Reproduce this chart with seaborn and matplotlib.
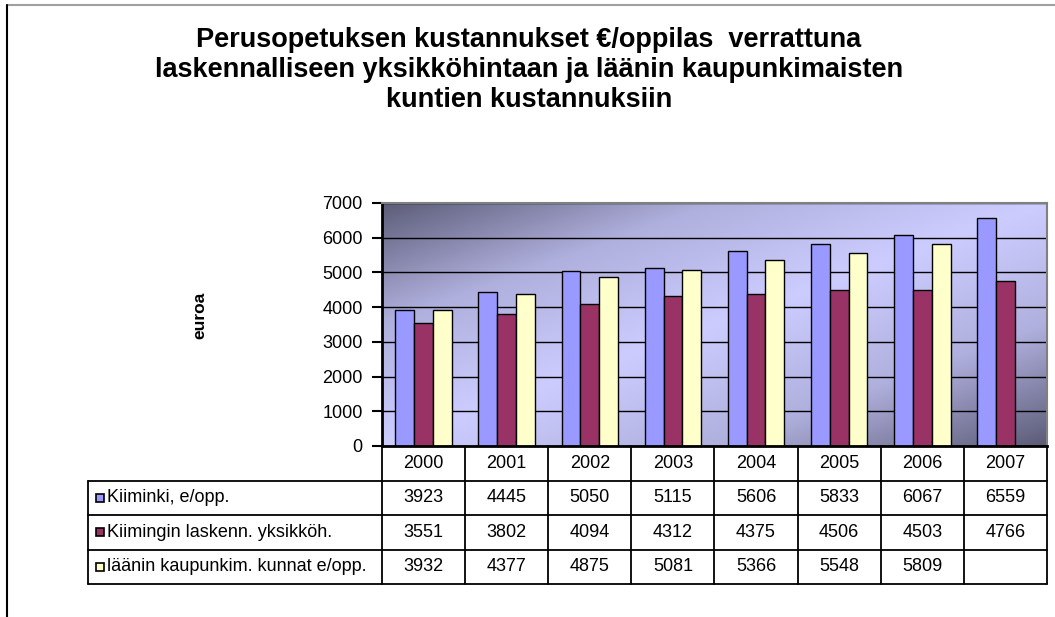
import numpy as np
import pandas as pd
import seaborn as sns
import matplotlib.pyplot as plt
from matplotlib.colors import LinearSegmentedColormap
from matplotlib.patches import Rectangle
from matplotlib.lines import Line2D

# data
years = ['2000', '2001', '2002', '2003', '2004', '2005', '2006', '2007']
kiiminki = [3923, 4445, 5050, 5115, 5606, 5833, 6067, 6559]
laskenn = [3551, 3802, 4094, 4312, 4375, 4506, 4503, 4766]
laani = [3932, 4377, 4875, 5081, 5366, 5548, 5809, np.nan]
series = ['Kiiminki, e/opp.', 'Kiimingin laskenn. yksikköh.', 'läänin kaupunkim. kunnat e/opp.']
colors = ['#9999ff', '#993366', '#ffffcc']

df = pd.DataFrame({'year': years, series[0]: kiiminki, series[1]: laskenn, series[2]: laani})
long = df.melt(id_vars='year', var_name='sarja', value_name='euroa')

sns.set_style('white')
plt.rcParams['font.family'] = ['Liberation Sans', 'DejaVu Sans']
plt.rcParams['text.color'] = 'black'
plt.rcParams['ytick.color'] = 'black'

W, H = 1055, 617
fig = plt.figure(figsize=(W / 100, H / 100), dpi=100)

def fx(px):
    return px / W

def fy(py):
    return 1 - py / H

# plot area
x0, x1, ytop, ybot = 382, 1047, 203, 446
ax = fig.add_axes([fx(x0), fy(ybot), fx(x1 - x0), (ybot - ytop) / H])

sns.barplot(data=long, x='year', y='euroa', hue='sarja', palette=colors,
            width=0.68, edgecolor='black', linewidth=1, saturation=1,
            legend=False, ax=ax, zorder=2)

# gradient background: dark corners top-left / bottom-right, light diagonal
gx, gy = np.meshgrid(np.linspace(0, 1, 300), np.linspace(1, 0, 120))
d = np.abs(gx - gy)
cmap = LinearSegmentedColormap.from_list('bg', ['#ccccff', '#b0b0de', '#5c5c78'])
ax.imshow(d, cmap=cmap, vmin=0, vmax=1, extent=[-0.5, 7.5, 0, 7000],
          aspect='auto', zorder=-1, interpolation='bilinear')

ax.set_xlim(-0.5, 7.5)
ax.set_ylim(0, 7000)
ax.set_yticks(range(0, 7001, 1000))
ax.set_xticks([])
ax.set_xlabel('')
ax.set_ylabel('')
ax.yaxis.grid(True, color='black', linewidth=1)
ax.set_axisbelow(True)
ax.tick_params(axis='y', left=True, length=7, width=1.5, color='black',
               labelsize=13, pad=7)
for s in ['left', 'bottom']:
    ax.spines[s].set_color('black')
    ax.spines[s].set_linewidth(2)
for s in ['top', 'right']:
    ax.spines[s].set_color('#808080')
    ax.spines[s].set_linewidth(1.5)

# data table under the chart
tx0, ty1 = 88, 584
cw = (x1 - x0) / len(years)
lab_w = (x0 - tx0) / cw
tab = fig.add_axes([fx(tx0), fy(ty1), fx(x1 - tx0), (ty1 - ybot) / H])
tab.set_xlim(-lab_w, len(years))
tab.set_ylim(4, 0)
tab.axis('off')
rh = (ty1 - ybot) / 4

lk = dict(color='black', linewidth=1.3, clip_on=False)
for i in range(len(years) + 1):
    tab.plot([i, i], [0, 4], **lk)
tab.plot([-lab_w, -lab_w], [1, 4], **lk)
for j in range(1, 5):
    tab.plot([-lab_w, len(years)], [j, j], **lk)

fs = 13
for i, y in enumerate(years):
    tab.text(i + 0.5, 0.5, y, ha='center', va='center', fontsize=fs)
rows = [kiiminki, laskenn, laani]
for r, (name, vals, c) in enumerate(zip(series, rows, colors)):
    yc = r + 1.5
    sw, sh = 8 / cw, 8 / rh
    tab.add_patch(Rectangle((-lab_w + 8 / cw, yc - sh / 2), sw, sh,
                            facecolor=c, edgecolor='black', linewidth=1.2))
    tab.text(-lab_w + 19 / cw, yc, name, ha='left', va='center', fontsize=fs)
    for i, v in enumerate(vals):
        if not np.isnan(v):
            tab.text(i + 0.5, yc, f'{int(v)}', ha='center', va='center', fontsize=fs)

fig.text(fx(200), fy(315), 'euroa', rotation=90, ha='center', va='center',
         fontsize=12.5, fontweight='bold')

fig.text(fx(529), fy(70),
         'Perusopetuksen kustannukset €/oppilas  verrattuna\n'
         'laskennalliseen yksikköhintaan ja läänin kaupunkimaisten\n'
         'kuntien kustannuksiin',
         ha='center', va='center', fontsize=19.5, fontweight='bold', linespacing=1.22)

# chart border
fig.add_artist(Line2D([fx(7), 1], [fy(5), fy(5)], color='#a0a0a0', linewidth=1.5))
fig.add_artist(Line2D([fx(7), fx(7)], [fy(5), 0], color='black', linewidth=1.5))

fig.savefig('out.png', dpi=100)
